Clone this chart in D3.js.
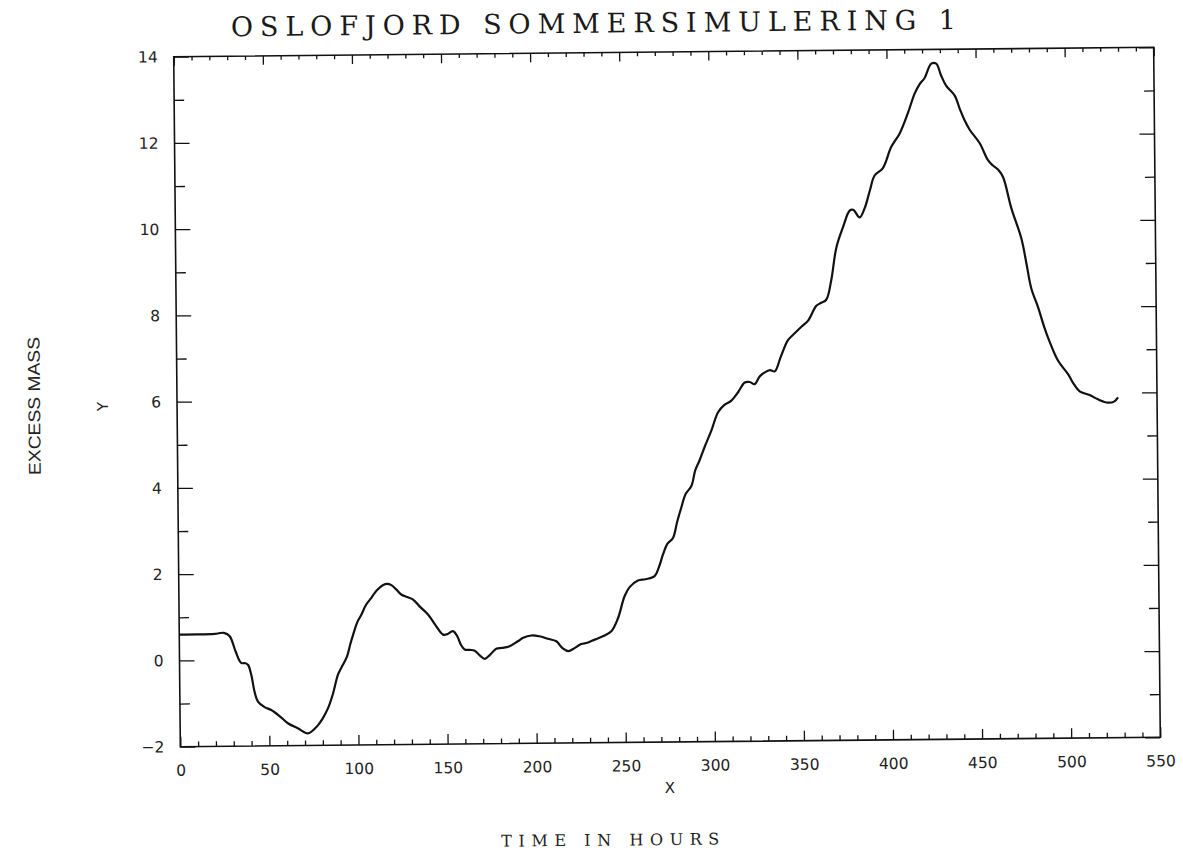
<!DOCTYPE html>
<html>
<head>
<meta charset="utf-8">
<script src="https://cdn.jsdelivr.net/npm/d3@7"></script>
<style>
  html, body { margin: 0; padding: 0; background: #fff; }
  svg { display: block; }
  .tick text { font-family: "DejaVu Sans", sans-serif; font-size: 15.5px; fill: #222; }
  .domain { display: none; }
  .tick line { stroke: #111; stroke-width: 1.3; }
</style>
</head>
<body>
<div id="chart"></div>
<script>
// Time series (hours, excess mass)
const hours = [0, 10, 20, 25, 28.3, 31.5, 34.6, 37, 38.5, 40.2, 42, 43.8, 47.5, 51.2, 55.5, 60.5, 66, 71.7, 74.5, 77.4,
  80, 83.1, 86, 88.9, 91.5, 94, 96, 97.5, 100, 102.3, 105, 108, 111, 114.5, 117, 119.3, 122, 124.8, 128, 131.4,
  135, 139.7, 144, 148, 150.5, 153.6, 156, 158, 160.1, 163, 165.7, 168.5, 171.3, 174, 177.8, 181, 185, 190, 193, 197.6,
  202, 206.9, 211.6, 215, 218.1, 221, 225.5, 229, 233.1, 238, 242.5, 246.3, 250.1, 253, 257.7, 262, 267.1, 269.5, 271.9, 274.5,
  277.6, 280, 282.4, 285, 288.2, 290.5, 292.9, 296, 299.7, 303.5, 307, 311.1, 315, 318.7, 321.5, 324.3, 327, 330, 333, 335.6,
  339, 343.2, 347, 350.8, 354.6, 359.3, 362, 364.9, 367.8, 370.8, 374.7, 378.5, 380.5, 384.1, 387, 390, 392.7, 397.4,
  402.2, 407, 411.8, 415.6, 418.5, 421.3, 425.1, 427.9, 430.5, 433.4, 438, 441, 443.5, 446.3, 451.8, 456.4, 459, 462,
  464.8, 469.2, 474.7, 477.5, 480, 483.7, 487, 490, 494.6, 500.2, 503.5, 506.6, 512.2, 516.8, 522.4, 526.1, 528.1];
const excessMass = [0.6, 0.6, 0.61, 0.63, 0.55, 0.2, -0.07, -0.08, -0.12, -0.35, -0.75, -0.97, -1.1, -1.17, -1.3, -1.48, -1.6, -1.72, -1.65, -1.53,
  -1.38, -1.14, -0.8, -0.36, -0.15, 0.05, 0.35, 0.55, 0.85, 1.02, 1.25, 1.41, 1.58, 1.7, 1.73, 1.7, 1.6, 1.48, 1.42, 1.36,
  1.2, 1.01, 0.75, 0.54, 0.55, 0.62, 0.5, 0.3, 0.19, 0.18, 0.16, 0.05, -0.03, 0.05, 0.2, 0.22, 0.25, 0.37, 0.45, 0.5,
  0.48, 0.42, 0.36, 0.2, 0.13, 0.18, 0.29, 0.32, 0.39, 0.47, 0.58, 0.88, 1.39, 1.6, 1.75, 1.78, 1.85, 2.05, 2.35, 2.6,
  2.73, 3.1, 3.43, 3.75, 3.93, 4.3, 4.52, 4.85, 5.21, 5.63, 5.8, 5.9, 6.1, 6.32, 6.33, 6.28, 6.45, 6.55, 6.6, 6.57,
  6.9, 7.29, 7.45, 7.6, 7.74, 8.08, 8.15, 8.22, 8.67, 9.42, 9.9, 10.28, 10.3, 10.12, 10.34, 10.75, 11.09, 11.26,
  11.75, 12.06, 12.54, 12.98, 13.2, 13.34, 13.67, 13.67, 13.4, 13.15, 12.93, 12.6, 12.35, 12.13, 11.82, 11.42, 11.3, 11.2,
  11.02, 10.31, 9.6, 9.0, 8.44, 8.0, 7.55, 7.2, 6.76, 6.44, 6.2, 6.04, 5.95, 5.85, 5.77, 5.8, 5.89];

const xMajor = d3.range(0, 551, 50);
const xMinor = d3.range(0, 551, 10).filter(v => v % 50 !== 0);
const yMajor = d3.range(-2, 15, 2);
const yMinor = d3.range(-1, 14, 2);

const titleText = "OSLOFJORD SOMMERSIMULERING 1";
const xAxisName = "X";
const yAxisName = "Y";
const xTitle = "TIME IN HOURS";
const yTitle = "EXCESS MASS";

const W = 1183, H = 852;
const frame = { left: 177, right: 1157, top: 52, bottom: 742 };

const svg = d3.select("#chart").append("svg")
  .attr("width", W)
  .attr("height", H);

svg.append("rect").attr("width", W).attr("height", H).attr("fill", "#fff");

// the scanned page is slightly skewed
const g = svg.append("g")
  .attr("transform", "rotate(-0.55, 667, 397)");

const x = d3.scaleLinear().domain([0, 550]).range([frame.left, frame.right]);
const y = d3.scaleLinear().domain([-2, 14]).range([frame.bottom, frame.top]);

// axes: ticks point inward
g.append("g")
  .attr("transform", `translate(0,${frame.bottom})`)
  .call(d3.axisBottom(x).tickValues(xMajor).tickSize(-10).tickPadding(18).tickFormat(d3.format("d")));
g.append("g")
  .attr("transform", `translate(0,${frame.bottom})`)
  .call(d3.axisBottom(x).tickValues(xMinor).tickSize(-5).tickFormat(""));
g.append("g")
  .attr("transform", `translate(0,${frame.top})`)
  .call(d3.axisTop(x).tickValues(xMajor).tickSize(-9).tickFormat(""));
g.append("g")
  .attr("transform", `translate(0,${frame.top})`)
  .call(d3.axisTop(x).tickValues(xMinor).tickSize(-4).tickFormat(""));

g.append("g")
  .attr("transform", `translate(${frame.left},0)`)
  .call(d3.axisLeft(y).tickValues(yMajor).tickSize(-15).tickPadding(16).tickFormat(d3.format("d")));
g.append("g")
  .attr("transform", `translate(${frame.left},0)`)
  .call(d3.axisLeft(y).tickValues(yMinor).tickSize(-10).tickFormat(""));
g.append("g")
  .attr("transform", `translate(${frame.right},0)`)
  .call(d3.axisRight(y).tickValues(yMajor).tickSize(-15).tickFormat(""));
g.append("g")
  .attr("transform", `translate(${frame.right},0)`)
  .call(d3.axisRight(y).tickValues(yMinor).tickSize(-10).tickFormat(""));

// frame
g.append("rect")
  .attr("x", frame.left)
  .attr("y", frame.top)
  .attr("width", frame.right - frame.left)
  .attr("height", frame.bottom - frame.top)
  .attr("fill", "none")
  .attr("stroke", "#111")
  .attr("stroke-width", 1.6);

// curve
const data = hours.map((h, i) => ({ h, m: excessMass[i] }));
const line = d3.line()
  .x(d => x(d.h))
  .y(d => y(d.m))
  .curve(d3.curveCatmullRom.alpha(0.5));

g.append("path")
  .datum(data)
  .attr("d", line)
  .attr("fill", "none")
  .attr("stroke", "#111")
  .attr("stroke-width", 2.2)
  .attr("stroke-linejoin", "round");

// title
g.append("text")
  .attr("x", 597)
  .attr("y", 32)
  .attr("text-anchor", "middle")
  .attr("textLength", 725)
  .attr("lengthAdjust", "spacing")
  .style("font-family", "'DejaVu Serif', serif")
  .style("font-size", "27px")
  .style("fill", "#1a1a1a")
  .text(titleText);

// axis names
g.append("text")
  .attr("x", 666)
  .attr("y", 793)
  .attr("text-anchor", "middle")
  .style("font-family", "'DejaVu Sans', sans-serif")
  .style("font-size", "15px")
  .style("fill", "#222")
  .text(xAxisName);

g.append("text")
  .attr("transform", "translate(108,401) rotate(-90)")
  .attr("text-anchor", "middle")
  .style("font-family", "'DejaVu Sans', sans-serif")
  .style("font-size", "15px")
  .style("fill", "#222")
  .text(yAxisName);

g.append("text")
  .attr("x", 606)
  .attr("y", 845)
  .attr("text-anchor", "middle")
  .attr("textLength", 218)
  .attr("lengthAdjust", "spacing")
  .style("font-family", "'DejaVu Serif', serif")
  .style("font-size", "16px")
  .style("fill", "#222")
  .text(xTitle);

g.append("text")
  .attr("transform", "translate(40,400) rotate(-90)")
  .attr("text-anchor", "middle")
  .attr("textLength", 138)
  .attr("lengthAdjust", "spacingAndGlyphs")
  .style("font-family", "'Liberation Sans Narrow', 'Liberation Sans', sans-serif")
  .style("font-size", "17px")
  .style("fill", "#222")
  .text(yTitle);
</script>
</body>
</html>
